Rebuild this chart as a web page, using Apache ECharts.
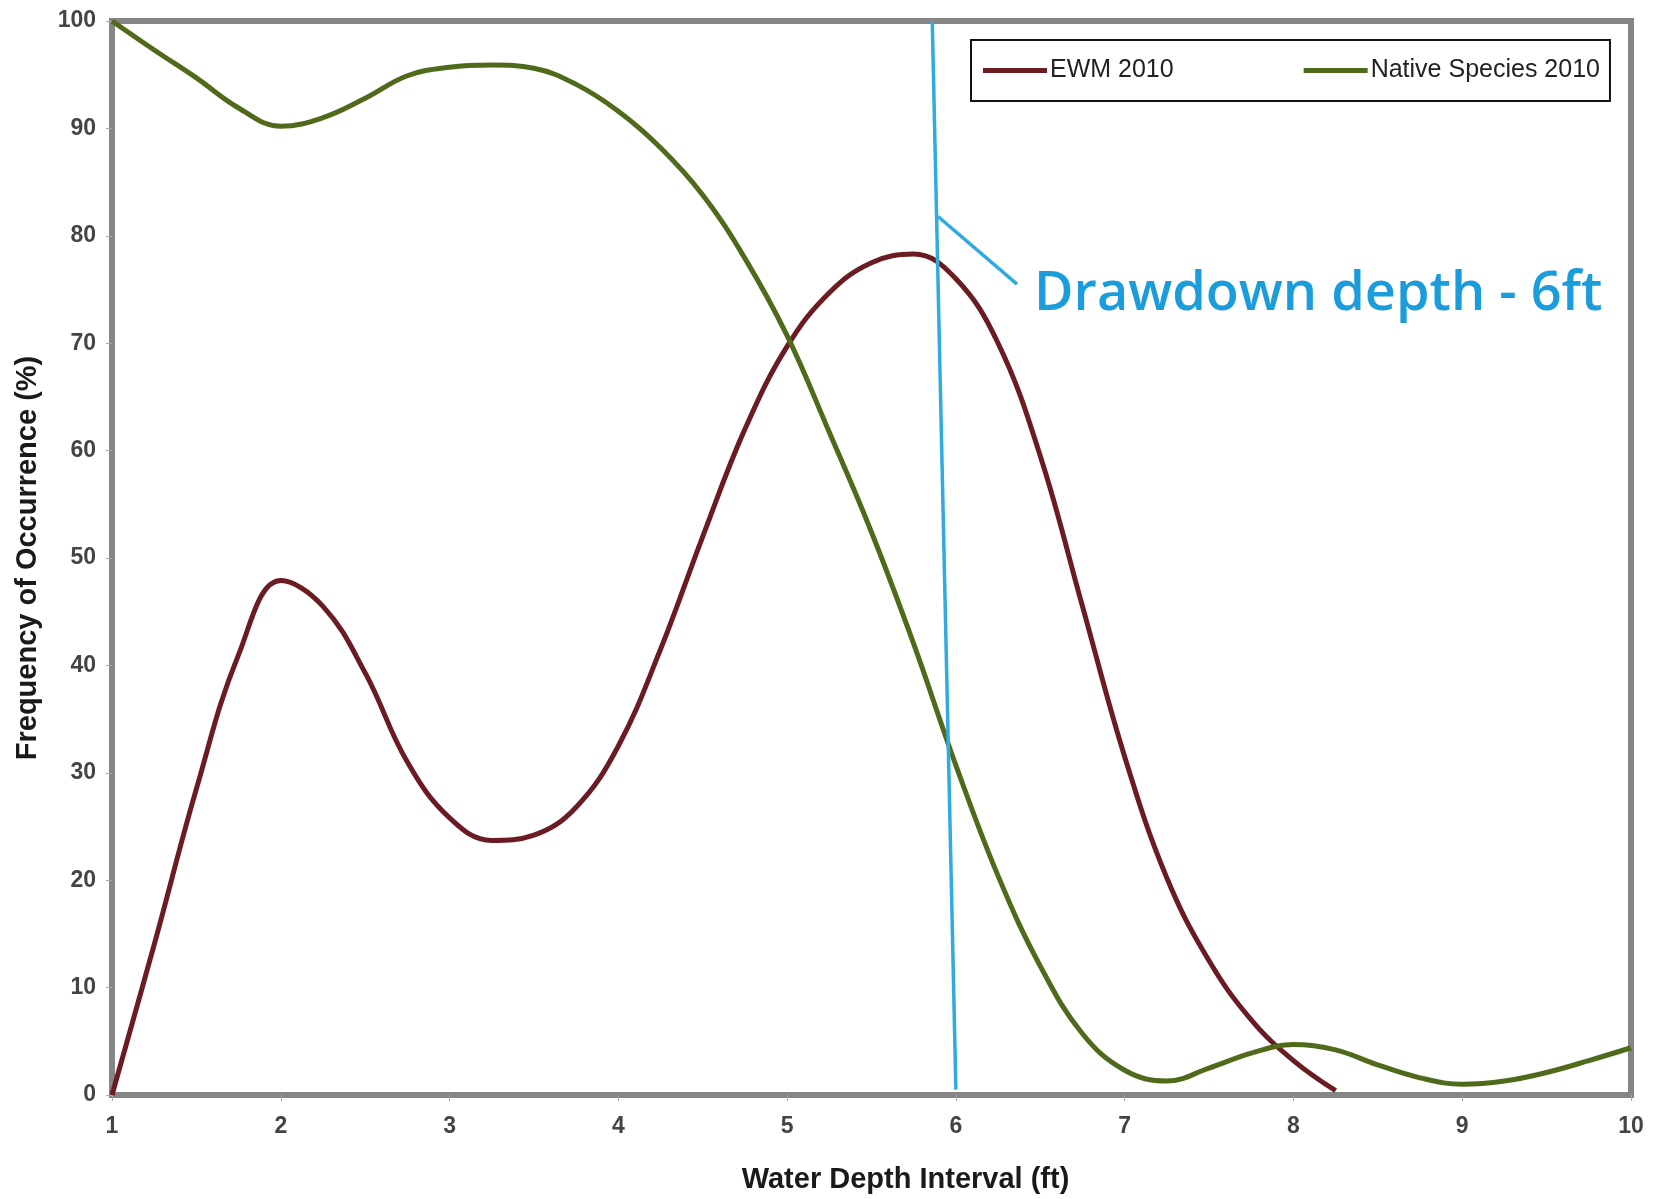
<!DOCTYPE html>
<html>
<head>
<meta charset="utf-8">
<script src="https://cdn.jsdelivr.net/npm/echarts@6/dist/echarts.min.js"></script>
<style>
html,body{margin:0;padding:0;background:#fff;}
#chart{width:1658px;height:1199px;}
</style>
</head>
<body>
<div id="chart"></div>
<script>
// Water depth (ft) vs frequency of occurrence (%)
const depthEwm = [1,1.25,1.5,1.75,2,2.25,2.5,2.75,3,3.25,3.5,3.75,4,4.25,4.5,4.75,5,5.25,5.5,5.75,6,6.25,6.5,6.75,7,7.25,7.5,7.75,8,8.25];
const ewm2010  = [0,14,28.5,41,47.9,45.5,39.3,31,25.8,23.7,24.2,26.8,32.5,41.5,52,62,69.7,74.7,77.5,78.3,76,70,59.5,45.5,31.5,20.2,12.5,7,3.2,0.4];
const depthNative = [1,1.25,1.5,1.75,2,2.25,2.5,2.75,3,3.25,3.5,3.75,4,4.25,4.5,4.75,5,5.25,5.5,5.75,6,6.25,6.5,6.75,7,7.25,7.5,7.75,8,8.25,8.5,8.75,9,9.25,9.5,9.75,10];
const native2010  = [100,97.3,94.7,91.9,90.2,91,92.8,94.9,95.7,95.9,95.6,94.1,91.6,88.2,83.8,77.9,70.7,61.7,52.4,42,30.7,20.4,12,5.7,2.3,1.3,2.5,3.9,4.7,4.2,2.8,1.6,1,1.3,2.1,3.2,4.4];
const drawdownLine = [[5.86,100],[6.0,0.5]];
const calloutLine = [[5.894,81.8],[6.362,75.5]];
const calloutText = 'Drawdown depth - 6ft';
const seriesNames = ['EWM 2010','Native Species 2010'];
const xTicks = [1,10,1];   // min, max, interval
const yTicks = [0,100,10];

const pair = (xs, ys) => xs.map((x, i) => [x, ys[i]]);

const chart = echarts.init(document.getElementById('chart'));
const FONT = 'Arial, "Liberation Sans", sans-serif';
const labelStyle = {fontFamily:FONT, fontSize:23, fontWeight:'bold', color:'#444'};
const titleStyle = {fontFamily:FONT, fontSize:29, fontWeight:'bold', color:'#1a1a1a'};
chart.setOption({
  animation:false,
  backgroundColor:'#fff',
  grid:{left:112,right:27,top:21,bottom:101,show:true,borderColor:'#868686',borderWidth:6,backgroundColor:'#fff'},
  legend:{
    data:seriesNames, left:971, top:40, orient:'horizontal',
    icon:'rect', itemWidth:64, itemHeight:5, itemGap:130,
    padding:[18,10,18,12], borderColor:'#111', borderWidth:2, backgroundColor:'#fff',
    textStyle:{fontFamily:FONT, fontSize:25, color:'#222', padding:[0,0,0,-2]}
  },
  xAxis:{
    type:'value', min:xTicks[0], max:xTicks[1], interval:xTicks[2],
    name:'Water Depth Interval (ft)', nameLocation:'middle', nameGap:70,
    nameTextStyle:Object.assign({padding:[0,0,0,68]},titleStyle),
    axisLine:{show:true,lineStyle:{color:'#868686',width:6}},
    axisTick:{show:true,length:6,lineStyle:{color:'#aaa',width:1}},
    axisLabel:Object.assign({margin:20},labelStyle),
    splitLine:{show:false}
  },
  yAxis:{
    type:'value', min:yTicks[0], max:yTicks[1], interval:yTicks[2],
    name:'Frequency of Occurrence (%)', nameLocation:'middle', nameGap:70, nameTextStyle:titleStyle,
    axisLine:{show:true,lineStyle:{color:'#868686',width:6}},
    axisTick:{show:true,length:6,lineStyle:{color:'#aaa',width:1}},
    axisLabel:Object.assign({margin:16},labelStyle),
    splitLine:{show:false}
  },
  series:[
    {name:seriesNames[0], type:'line', data:pair(depthEwm, ewm2010), smooth:0.4, showSymbol:false, symbol:'none',
     color:'#6b1c22', lineStyle:{color:'#6b1c22',width:5}, z:3},
    {name:seriesNames[1], type:'line', data:pair(depthNative, native2010), smooth:0.4, showSymbol:false, symbol:'none',
     color:'#4f6a1a', lineStyle:{color:'#4f6a1a',width:5}, z:3},
    {name:'drawdown', type:'line', data:drawdownLine, showSymbol:false, symbol:'none', silent:true,
     lineStyle:{color:'#2fabe2',width:3.5}, z:4},
    {name:'callout', type:'line', data:calloutLine, showSymbol:false, symbol:'none', silent:true,
     lineStyle:{color:'#2fabe2',width:3.5}, z:4}
  ],
  graphic:[{
    type:'text', left:1034, top:268,
    style:{text:calloutText, fill:'#1b9ddb', font:'600 54px "Open Sans", sans-serif'}
  }]
});
</script>
</body>
</html>
